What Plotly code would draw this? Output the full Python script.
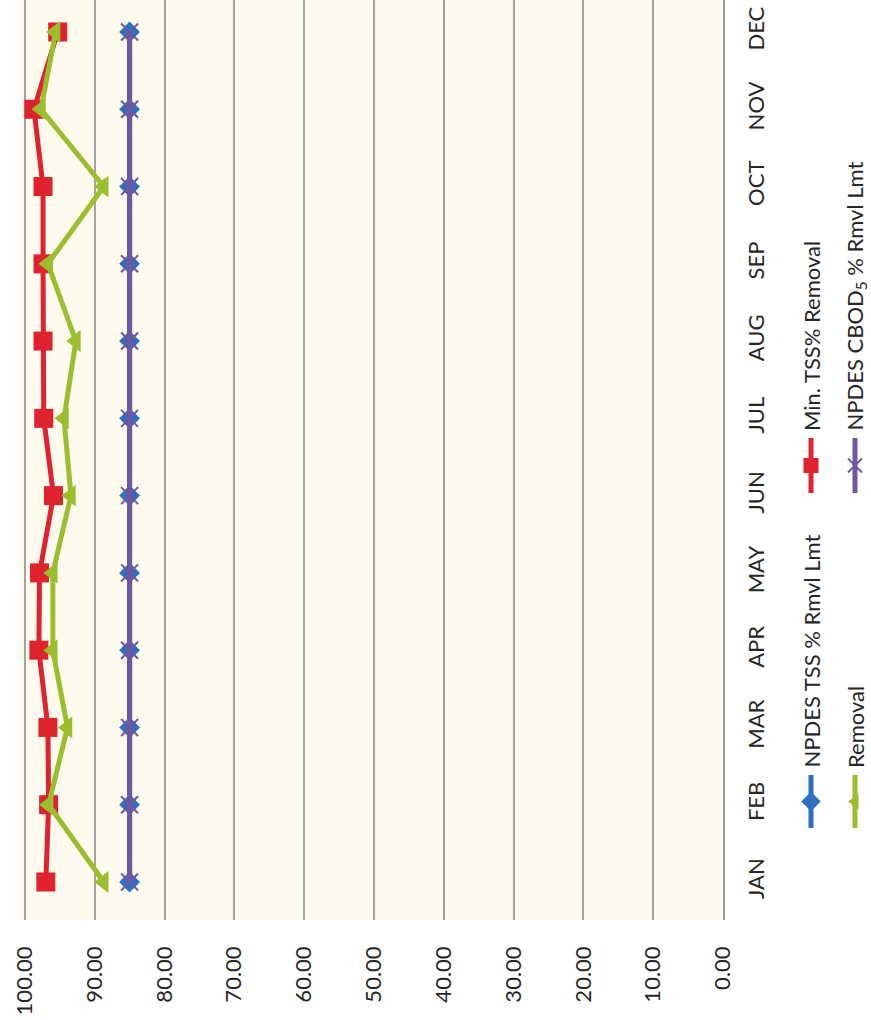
import plotly.graph_objects as go

# Monthly percent-removal data (values 0-100), chart laid out sideways
months = ["JAN", "FEB", "MAR", "APR", "MAY", "JUN", "JUL", "AUG", "SEP", "OCT", "NOV", "DEC"]
npdes_tss_lmt = [85, 85, 85, 85, 85, 85, 85, 85, 85, 85, 85, 85]
min_tss_removal = [97.0, 96.6, 96.7, 98.0, 97.9, 95.9, 97.3, 97.4, 97.4, 97.4, 98.7, 95.3]
removal = [88.7, 96.6, 93.9, 96.0, 96.0, 93.4, 94.4, 92.7, 96.7, 88.7, 97.7, 95.6]
npdes_cbod_lmt = [85, 85, 85, 85, 85, 85, 85, 85, 85, 85, 85, 85]
value_ticks = [0, 10, 20, 30, 40, 50, 60, 70, 80, 90, 100]

W, H = 871, 1020
FONT = "Lato"
TXT = "#262626"
FS = 22

BLUE = "#2F6FBF"
RED = "#E0212E"
GREEN = "#9BBE2F"
PURPLE = "#6E57A0"

fig = go.Figure()

series = [
    ("NPDES TSS % Rmvl Lmt", npdes_tss_lmt, BLUE, dict(symbol="diamond", size=16)),
    ("Min. TSS% Removal", min_tss_removal, RED, dict(symbol="square", size=19)),
    ("Removal", removal, GREEN, dict(symbol="triangle-left", size=19)),
    ("NPDES CBOD<sub>5</sub> % Rmvl Lmt", npdes_cbod_lmt, PURPLE,
     dict(symbol="x-thin", size=17, line=dict(width=2, color=PURPLE))),
]
for name, vals, col, mk in series:
    fig.add_trace(go.Scatter(
        x=vals, y=months, mode="lines+markers", name=name,
        line=dict(color=col, width=5),
        marker=dict(color=col, **mk),
        showlegend=False,
    ))

# Overlay axes in pixel units for the sideways legend
leg_x1, leg_x2 = 811, 855
icons = [
    (leg_x1, 775, 828, BLUE, "diamond", 15, "NPDES TSS % Rmvl Lmt", 770),
    (leg_x1, 438, 493, RED, "square", 15, "Min. TSS% Removal", 433),
    (leg_x2, 775, 828, GREEN, "triangle-left", 14, "Removal", 770),
    (leg_x2, 438, 493, PURPLE, "x-thin", 14, "NPDES CBOD<sub>5</sub> % Rmvl Lmt", 433),
]
for x, y0, y1, col, sym, sz, label, ty in icons:
    fig.add_trace(go.Scatter(
        x=[x, x], y=[y0, y1], mode="lines", xaxis="x2", yaxis="y2",
        line=dict(color=col, width=5), showlegend=False, hoverinfo="skip",
    ))
    mk = dict(color=col, symbol=sym, size=sz)
    if sym == "x-thin":
        mk["line"] = dict(color=col, width=2)
    fig.add_trace(go.Scatter(
        x=[x], y=[(y0 + y1) / 2], mode="markers", xaxis="x2", yaxis="y2",
        marker=mk, showlegend=False, hoverinfo="skip",
    ))
    fig.add_annotation(
        x=x, y=ty, xref="x2", yref="y2", text=label, textangle=-90,
        showarrow=False, xanchor="center", yanchor="bottom",
        font=dict(family=FONT, size=FS, color=TXT),
    )

# Cream plot area painted as a shape under the gridlines
fig.add_shape(
    type="rect", xref="x domain", yref="y domain", x0=0, x1=1, y0=0, y1=1,
    fillcolor="#FEFAEE", line=dict(width=0), layer="below",
)

fig.update_layout(
    width=W, height=H,
    margin=dict(l=0, r=0, t=0, b=0),
    paper_bgcolor="white",
    plot_bgcolor="rgba(0,0,0,0)",
    showlegend=False,
    font=dict(family=FONT, size=FS, color=TXT),
    xaxis=dict(
        domain=[20 / W, 723 / W],
        range=[100.7, 0],
        tickvals=value_ticks,
        tickformat=".2f",
        tickangle=-90,
        showgrid=True, gridcolor="#A3A3A3", gridwidth=1.5,
        zeroline=False, showline=False,
        ticks="", ticklabelstandoff=21,
        automargin=False,
        tickfont=dict(family=FONT, size=FS, color=TXT),
    ),
    yaxis=dict(
        domain=[(H - 920) / H, 1.0],
        range=[-0.492, 11.414],
        side="right",
        tickangle=-90,
        showgrid=False, zeroline=False,
        showline=True, linecolor="#9A9A9A", linewidth=2,
        ticks="", ticklabelstandoff=13,
        automargin=False,
        tickfont=dict(family=FONT, size=FS, color=TXT),
    ),
    xaxis2=dict(domain=[0, 1], range=[0, W], visible=False, anchor="y2", fixedrange=True),
    yaxis2=dict(domain=[0, 1], range=[H, 0], visible=False, anchor="x2", fixedrange=True),
)

fig.write_html("out.html")
